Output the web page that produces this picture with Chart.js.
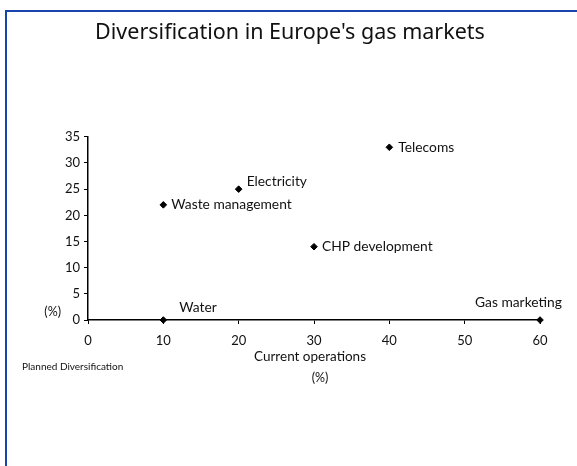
<!DOCTYPE html>
<html lang="en">
<head>
    <meta charset="UTF-8">
    <title>Diversification in Europe's gas markets</title>
    <script src="https://cdn.jsdelivr.net/npm/chart.js@4.4.1/dist/chart.umd.min.js"></script>
    <style>
        html, body { margin: 0; padding: 0; background: #fff; overflow: hidden; }
        canvas { display: block; }
    </style>
</head>
<body>
<canvas id="myChart" width="577" height="466"></canvas>

<script>
    // data
    var categories = ["Water", "Waste management", "Electricity", "CHP development", "Telecoms", "Gas marketing"];
    var currentOps = [10, 10, 20, 30, 40, 60];
    var plannedDiv = [0, 22, 25, 14, 33, 0];
    var xTicks = [0, 10, 20, 30, 40, 50, 60];
    var yTicks = [0, 5, 10, 15, 20, 25, 30, 35];

    // where each label sits relative to its marker (pixels)
    var labelOffsets = [[16, -12], [8, 0], [8, -8], [8, 0], [9, 0], [-65, -17]];

    var FONT = "Lato, 'Noto Sans', sans-serif";

    var points = categories.map(function (c, i) {
        return { x: currentOps[i], y: plannedDiv[i] };
    });

    // blue frame along the top and left edges
    var framePlugin = {
        id: "framePlugin",
        beforeDraw: function (chart) {
            var ctx = chart.ctx;
            ctx.save();
            ctx.strokeStyle = "#1a44ad";
            ctx.lineWidth = 2;
            ctx.beginPath();
            ctx.moveTo(6, chart.height);
            ctx.lineTo(6, 11);
            ctx.lineTo(chart.width, 11);
            ctx.stroke();
            ctx.restore();
        }
    };

    var textPlugin = {
        id: "textPlugin",
        afterDatasetsDraw: function (chart) {
            var ctx = chart.ctx;
            var xs = chart.scales.x, ys = chart.scales.y;
            var area = chart.chartArea;
            ctx.save();
            ctx.fillStyle = "#111";
            ctx.textBaseline = "middle";
            ctx.textAlign = "left";
            ctx.font = "13.8px " + FONT;
            for (var i = 0; i < categories.length; i++) {
                var px = xs.getPixelForValue(currentOps[i]);
                var py = ys.getPixelForValue(plannedDiv[i]);
                ctx.fillText(categories[i], px + labelOffsets[i][0], py + labelOffsets[i][1]);
            }
            // axis captions
            ctx.font = "12.5px " + FONT;
            ctx.textAlign = "right";
            ctx.fillText("(%)", area.left - 27, area.bottom - 8);
            ctx.textAlign = "center";
            ctx.font = "13.5px " + FONT;
            ctx.fillText("Current operations", (area.left + area.right) / 2 - 4, area.bottom + 37);
            ctx.font = "12.5px " + FONT;
            ctx.fillText("(%)", (area.left + area.right) / 2 + 6, area.bottom + 58);
            ctx.font = "10px " + FONT;
            ctx.textAlign = "left";
            ctx.fillText("Planned Diversification", 22, area.bottom + 47);
            ctx.restore();
        }
    };

    var ctx = document.getElementById("myChart").getContext("2d");
    var myChart = new Chart(ctx, {
        type: "scatter",
        data: {
            datasets: [{
                data: points,
                pointStyle: "rectRot",
                pointRadius: 3.3,
                pointBackgroundColor: "#000",
                pointBorderColor: "#000",
                showLine: false,
                clip: false
            }]
        },
        options: {
            responsive: false,
            animation: false,
            layout: { padding: { left: 40, right: 37, top: 0, bottom: 76 } },
            plugins: {
                legend: { display: false },
                tooltip: { enabled: false },
                title: {
                    display: true,
                    text: "Diversification in Europe's gas markets",
                    color: "#111",
                    font: { family: "'Noto Sans', sans-serif", size: 21.5, weight: "normal" },
                    padding: { top: 20, bottom: 91 }
                }
            },
            scales: {
                x: {
                    type: "linear",
                    min: xTicks[0],
                    max: xTicks[xTicks.length - 1],
                    afterBuildTicks: function (s) { s.ticks = xTicks.map(function (v) { return { value: v }; }); },
                    afterFit: function (s) { s.height = 70; },
                    border: { display: true, color: "#000", width: 1.5 },
                    grid: { drawOnChartArea: false, drawTicks: true, tickLength: 4, color: "#000" },
                    ticks: { color: "#111", padding: 9, maxRotation: 0, font: { family: FONT, size: 13 } }
                },
                y: {
                    type: "linear",
                    min: yTicks[0],
                    max: yTicks[yTicks.length - 1],
                    afterBuildTicks: function (s) { s.ticks = yTicks.map(function (v) { return { value: v }; }); },
                    afterFit: function (s) { s.width = 48; },
                    border: { display: true, color: "#000", width: 1.5 },
                    grid: { drawOnChartArea: false, drawTicks: true, tickLength: 4, color: "#000" },
                    ticks: { color: "#111", padding: 4, font: { family: FONT, size: 13 } }
                }
            }
        },
        plugins: [framePlugin, textPlugin]
    });
</script>
</body>
</html>
